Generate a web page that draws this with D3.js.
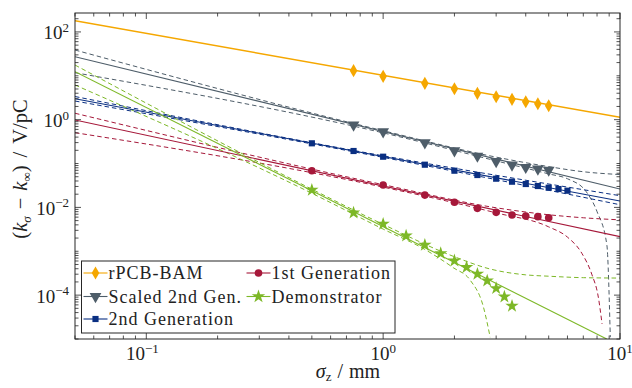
<!DOCTYPE html>
<html lang="en">
<head>
  <meta charset="UTF-8">
  <title>k_sigma vs sigma_z</title>
  <script src="https://d3js.org/d3.v7.min.js"></script>
  <style>
    body { margin: 0; background: #fff; }
    svg { display: block; font-family: "Liberation Serif", "DejaVu Serif", serif; }
  </style>
</head>
<body>
  <div id="chart"></div>
  <script>
    // measured points (sigma_z in mm, k in V/pC)
    const bamX = [0.75, 1, 1.5, 2, 2.5, 3, 3.5, 4, 4.5, 5];
    const bamY = [13.1, 9.7, 6.74, 5.07, 3.99, 3.33, 2.91, 2.56, 2.31, 2.08];

    const scaledX = [0.75, 1, 1.5, 2, 2.5, 3, 3.5, 4, 4.5, 5];
    const scaledY = [0.755, 0.531, 0.298, 0.196, 0.148, 0.112, 0.0925, 0.082, 0.075, 0.071];

    const gen2X = [0.5, 0.75, 1, 1.5, 2, 2.5, 3, 3.5, 4, 4.5, 5, 5.5, 6];
    const gen2Y = [0.289, 0.193, 0.143, 0.094, 0.0686, 0.0547, 0.0451, 0.0385, 0.0341, 0.0307, 0.0281, 0.0262, 0.024];

    const gen1X = [0.5, 1, 1.5, 2, 2.5, 3, 3.5, 4, 4.5, 5];
    const gen1Y = [0.0686, 0.0324, 0.0191, 0.0131, 0.00953, 0.00773, 0.0067, 0.00636, 0.00614, 0.00582];

    const demoX = [0.5, 0.75, 1, 1.25, 1.5, 1.75, 2, 2.25, 2.5, 2.75, 3, 3.25, 3.5];
    const demoY = [0.0249, 0.00757, 0.00418, 0.00226, 0.00139, 0.000898, 0.00061, 0.000431, 0.000303, 0.000213, 0.000143, 9.2e-5, 5.65e-5];

    // fit lines [sigma, k]
    const bamFit = [[0.05, 180], [10, 1.13]];
    const scaledFit = [[0.05, 27.2], [10, 0.0262]];
    const gen2Fit = [[0.05, 3.0], [10, 0.014]];
    const gen1Fit = [[0.05, 0.98], [10, 0.00215]];
    const demoFit = [[0.05, 12.4], [8.79, 1e-5]];

    // confidence bounds (dashed)
    const scaledUp = [[0.05, 38.7], [1, 0.56], [3, 0.14], [5, 0.085], [7, 0.065], [10, 0.056]];
    const scaledLo = [[0.05, 11.75], [1, 0.5], [3, 0.115], [5, 0.058], [6, 0.045], [7.2, 0.0228], [8, 0.008], [8.8, 0.0014], [9.1, 1.1e-5]];
    const gen2Up = [[0.05, 3.37], [1, 0.15], [10, 0.0185]];
    const gen2Lo = [[0.05, 2.66], [1, 0.138], [10, 0.0115]];
    const gen1Up = [[0.05, 1.4], [1, 0.033], [3, 0.0098], [5, 0.0068], [7, 0.0058], [10, 0.0052]];
    const gen1Lo = [[0.05, 0.505], [1, 0.029], [3, 0.0075], [5, 0.0036], [6, 0.0021], [6.9, 0.0009], [7.6, 0.0003], [8.1, 9e-5], [8.4, 2.2e-5]];
    const demoUp = [[0.05, 17.6], [0.5, 0.026], [1, 0.0041], [2, 0.00075], [2.8, 0.0004], [4, 0.00029], [5, 0.00027], [7, 0.00025], [10, 0.000245]];
    const demoLo = [[0.05, 6.17], [0.5, 0.021], [1, 0.0032], [1.5, 0.0011], [1.98, 0.00042], [2.33, 0.00022], [2.65, 5.4e-5], [2.83, 1.1e-5]];

    const xMajor = [0.1, 1, 10];
    const yMajor = [1e-4, 1e-2, 1, 100];

    const series = [
      { name: "rPCB-BAM", color: "#f5a700", symbol: d3.symbolDiamond, size: 50, rot: 0, x: bamX, y: bamY, fit: bamFit, up: null, lo: null },
      { name: "Scaled 2nd Gen.", color: "#4e5d69", symbol: d3.symbolTriangle, size: 60, rot: 180, x: scaledX, y: scaledY, fit: scaledFit, up: scaledUp, lo: scaledLo },
      { name: "2nd Generation", color: "#0a2f82", symbol: d3.symbolSquare, size: 38, rot: 0, x: gen2X, y: gen2Y, fit: gen2Fit, up: gen2Up, lo: gen2Lo },
      { name: "1st Generation", color: "#a6183a", symbol: d3.symbolCircle, size: 46, rot: 0, x: gen1X, y: gen1Y, fit: gen1Fit, up: gen1Up, lo: gen1Lo },
      { name: "Demonstrator", color: "#7db827", symbol: d3.symbolStar, size: 56, rot: 0, x: demoX, y: demoY, fit: demoFit, up: demoUp, lo: demoLo }
    ];

    const width = 632, height = 388;
    const mLeft = 75, mRight = 620, mTop = 13, mBottom = 339;

    const svg = d3.select("#chart").append("svg")
      .attr("width", width)
      .attr("height", height);

    const x = d3.scaleLog().domain([0.05, 10]).range([mLeft, mRight]);
    const y = d3.scaleLog().domain([1e-5, 270]).range([mBottom, mTop]);

    svg.append("clipPath").attr("id", "plot")
      .append("rect")
      .attr("x", mLeft).attr("y", mTop)
      .attr("width", mRight - mLeft).attr("height", mBottom - mTop);

    const g = svg.append("g").attr("clip-path", "url(#plot)");
    const line = d3.line().x(d => x(d[0])).y(d => y(d[1])).curve(d3.curveMonotoneX);

    // dashed bounds first, fit lines, then markers
    series.forEach(s => {
      [s.up, s.lo].forEach(b => {
        if (!b) return;
        g.append("path")
          .attr("d", line(b))
          .attr("fill", "none")
          .attr("stroke", s.color)
          .attr("stroke-width", 1)
          .attr("stroke-dasharray", "4.5,3");
      });
    });
    series.forEach(s => {
      g.append("path")
        .attr("d", line(s.fit))
        .attr("fill", "none")
        .attr("stroke", s.color)
        .attr("stroke-width", s.name === "rPCB-BAM" ? 1.5 : 1.1);
    });
    series.forEach(s => {
      g.selectAll(null)
        .data(d3.zip(s.x, s.y))
        .enter()
        .append("path")
        .attr("d", d3.symbol().type(s.symbol).size(s.size))
        .attr("transform", d => `translate(${x(d[0])},${y(d[1])}) rotate(${s.rot})`)
        .attr("fill", s.color);
    });

    // axes box and ticks (inside)
    const axisColor = "#262626";
    const ticks = svg.append("g").attr("stroke", axisColor).attr("stroke-width", 0.8);

    const xTicks = [];
    for (let e = -2; e <= 1; e++) {
      for (let k = 1; k <= 9; k++) {
        const v = k * Math.pow(10, e);
        if (v >= 0.05 - 1e-9 && v <= 10 + 1e-9) xTicks.push(v);
      }
    }
    xTicks.forEach(v => {
      const len = xMajor.some(m => Math.abs(m - v) < 1e-9) ? 6 : 3.5;
      const px = x(v);
      ticks.append("line").attr("x1", px).attr("x2", px).attr("y1", mBottom).attr("y2", mBottom - len);
      ticks.append("line").attr("x1", px).attr("x2", px).attr("y1", mTop).attr("y2", mTop + len);
    });

    const yTicks = [];
    for (let e = -5; e <= 2; e++) {
      for (let k = 1; k <= 9; k++) {
        const v = k * Math.pow(10, e);
        if (v >= 1e-5 * 0.999 && v <= 270) yTicks.push(v);
      }
    }
    yTicks.forEach(v => {
      const len = yMajor.some(m => Math.abs(m - v) / m < 1e-6) ? 6 : 3.5;
      const py = y(v);
      ticks.append("line").attr("x1", mLeft).attr("x2", mLeft + len).attr("y1", py).attr("y2", py);
      ticks.append("line").attr("x1", mRight).attr("x2", mRight - len).attr("y1", py).attr("y2", py);
    });

    svg.append("rect")
      .attr("x", mLeft).attr("y", mTop)
      .attr("width", mRight - mLeft).attr("height", mBottom - mTop)
      .attr("fill", "none")
      .attr("stroke", axisColor)
      .attr("stroke-width", 1);

    // tick labels
    function power(sel, exp) {
      sel.append("tspan").text("10");
      sel.append("tspan")
        .attr("dy", -7.5)
        .attr("font-size", 13)
        .text(exp < 0 ? "\u2212" + (-exp) : String(exp));
    }
    xMajor.forEach(v => {
      const e = Math.round(Math.log10(v));
      const t = svg.append("text")
        .attr("x", x(v) - (e < 0 ? 4 : 0))
        .attr("y", 360)
        .attr("text-anchor", "middle")
        .attr("font-size", 19)
        .attr("fill", "#222");
      power(t, e);
    });
    yMajor.forEach(v => {
      const t = svg.append("text")
        .attr("x", 69)
        .attr("y", y(v) + 7.5)
        .attr("text-anchor", "end")
        .attr("font-size", 19)
        .attr("fill", "#222");
      power(t, Math.round(Math.log10(v)));
    });

    // axis titles
    const xl = svg.append("text")
      .attr("x", 348).attr("y", 378)
      .attr("text-anchor", "middle")
      .attr("font-size", 20)
      .attr("fill", "#222");
    xl.append("tspan").attr("font-style", "italic").text("\u03c3");
    xl.append("tspan").attr("font-size", 13).attr("dy", 3).text("z");
    xl.append("tspan").attr("dy", -3).attr("dx", 6).text("/");
    xl.append("tspan").attr("dx", 6).text("mm");

    const yl = svg.append("text")
      .attr("transform", `translate(27,169) rotate(-90)`)
      .attr("text-anchor", "middle")
      .attr("font-size", 20.5)
      .attr("fill", "#222");
    yl.append("tspan").text("(");
    yl.append("tspan").attr("font-style", "italic").text("k");
    yl.append("tspan").attr("font-style", "italic").attr("font-size", 13).attr("dy", 4).text("\u03c3");
    yl.append("tspan").attr("dy", -4).attr("dx", 7).text("\u2212");
    yl.append("tspan").attr("dx", 7).attr("font-style", "italic").text("k");
    yl.append("tspan").attr("font-size", 13).attr("dy", 4).text("\u221e");
    yl.append("tspan").attr("dy", -4).text(")");
    yl.append("tspan").attr("dx", 8).text("/");
    yl.append("tspan").attr("dx", 8).text("V/pC");

    // legend
    const legend = svg.append("g");
    legend.append("rect")
      .attr("x", 81.5).attr("y", 261)
      .attr("width", 313.5).attr("height", 72)
      .attr("fill", "#fff")
      .attr("stroke", axisColor)
      .attr("stroke-width", 1);

    const legendPos = [[83.5, 273], [83.5, 296.5], [83.5, 319], [246.5, 273], [246.5, 296.5]];
    series.forEach((s, i) => {
      const [lx, ly] = legendPos[i];
      legend.append("line")
        .attr("x1", lx).attr("x2", lx + 24)
        .attr("y1", ly).attr("y2", ly)
        .attr("stroke", s.color).attr("stroke-width", 1.1);
      legend.append("path")
        .attr("d", d3.symbol().type(s.symbol).size(s.size)())
        .attr("transform", `translate(${lx + 12},${ly}) rotate(${s.rot})`)
        .attr("fill", s.color);
      legend.append("text")
        .attr("x", lx + 25).attr("y", ly + 6)
        .attr("font-size", 18)
        .attr("letter-spacing", 1)
        .attr("fill", "#222")
        .text(s.name);
    });
  </script>
</body>
</html>
